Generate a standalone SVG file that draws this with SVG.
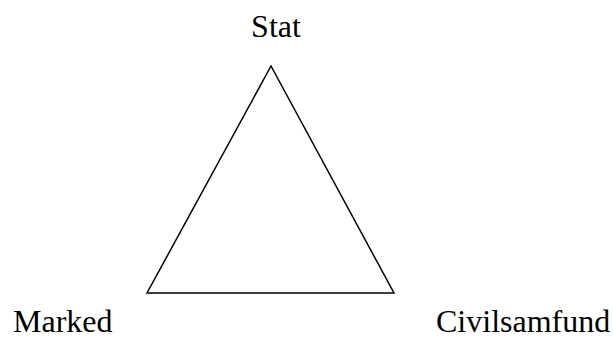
<svg xmlns="http://www.w3.org/2000/svg" width="613" height="338" viewBox="0 0 613 338">
<style>
text{font-family:'Liberation Serif',Tinos,'Times New Roman',Times,serif;font-size:32px;fill:#000}
</style>
<rect width="613" height="338" fill="#fff"/>
<g id="connectors">
<polygon points="271,66 147,293 394,293" fill="none" stroke="#000" stroke-width="1.5"/>
</g>
<g id="stat"><text x="276" y="37" text-anchor="middle">Stat</text></g>
<g id="marked"><text x="13" y="332">Marked</text></g>
<g id="civilsamfund"><text x="436" y="332">Civilsamfund</text></g>
</svg>
